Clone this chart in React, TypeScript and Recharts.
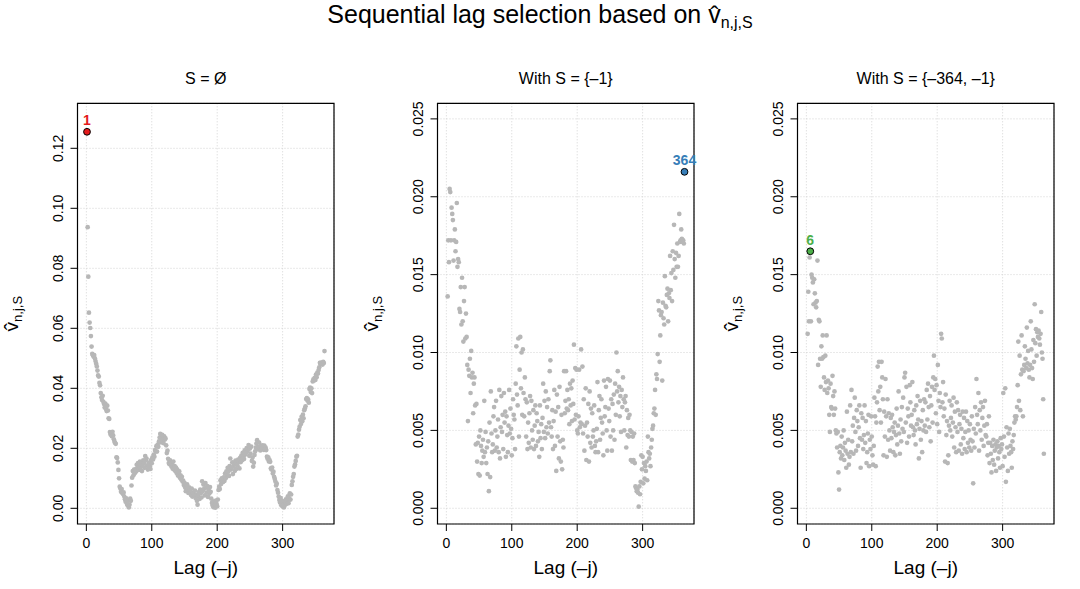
import React from 'react';
import { ScatterChart, Scatter, XAxis, YAxis, CartesianGrid, ReferenceArea } from 'recharts';

const FONT = '"Liberation Sans", Arial, Helvetica, sans-serif';

// ---------- data (values in thousandths, i.e. value * 1000) ----------
const X_TICKS = [0, 100, 200, 300];
const X_DOMAIN: [number, number] = [-13.52, 378.52];

const P1_Y_TICKS = [0, 0.02, 0.04, 0.06, 0.08, 0.1, 0.12];
const P23_Y_TICKS = [0, 0.005, 0.01, 0.015, 0.02, 0.025];

const TITLE_MAIN = 'Sequential lag selection based on ';
const PANEL_TITLES = ['S = Ø', 'With S = {–1}', 'With S = {–364, –1}'];
const X_LABEL = 'Lag (–j)';

// Panel 1: S = Ø, lags 1..364
const P1_FIRST_LAG = 1;
const P1_VALUES = [
  125.5, 93.7, 77.2, 65.2, 61.9, 60.1, 57.4, 53.9, 51.5, 51.0,
  50.6, 51.1, 50.0, 49.1, 48.2, 47.3, 45.9, 44.3, 43.9, 41.8,
  41.0, 38.4, 37.0, 36.1, 37.5, 35.5, 34.8, 33.6, 34.9, 33.1,
  32.4, 34.2, 32.6, 30.0, 29.8, 25.4, 24.6, 25.2, 24.0, 25.5,
  24.3, 23.0, 22.2, 21.8, 21.5, 17.0, 16.8, 15.3, 12.8, 10.0,
  7.2, 6.6, 5.5, 6.4, 5.1, 4.8, 5.3, 3.9, 3.0, 2.2,
  3.3, 1.5, 1.0, 2.6, 0.3, 1.2, 3.2, 2.5, 7.6, 10.2,
  12.4, 11.0, 12.9, 11.7, 13.0, 12.3, 14.5, 13.2, 15.1, 12.8,
  14.0, 15.6, 13.6, 14.9, 12.4, 14.4, 16.0, 15.0, 13.5, 17.4,
  15.9, 16.6, 14.3, 12.9, 13.6, 15.2, 14.0, 13.1, 16.1, 15.0,
  17.0, 16.3, 17.9, 17.2, 19.4, 19.0, 20.7, 18.9, 21.2, 20.5,
  22.3, 23.6, 24.8, 22.0, 23.2, 24.5, 22.6, 21.7, 24.0, 22.9,
  23.3, 21.0, 18.4, 19.2, 16.5, 15.1, 14.7, 16.0, 15.3, 13.9,
  14.8, 13.2, 15.6, 12.9, 14.1, 12.4, 13.6, 11.8, 12.9, 10.9,
  11.5, 12.3, 10.2, 11.0, 9.6, 10.5, 8.9, 9.2, 7.8, 8.5,
  6.9, 5.7, 7.3, 8.0, 6.2, 5.1, 7.0, 6.0, 5.5, 4.4,
  6.6, 3.9, 5.2, 4.8, 4.1, 5.9, 3.4, 4.6, 2.5, 1.2,
  4.0, 5.4, 3.1, 6.2, 5.0, 3.6, 9.0, 5.8, 7.9, 6.5,
  4.3, 8.4, 6.9, 5.2, 7.4, 3.8, 6.1, 4.9, 7.1, 5.5,
  3.2, 1.8, 0.9, 0.4, 2.3, 1.1, 0.2, 2.6, 1.5, 0.7,
  2.9, 6.1, 7.2, 6.4, 9.3, 8.1, 10.0, 9.5, 8.8, 10.3,
  9.1, 11.6, 10.0, 12.3, 11.0, 13.5, 12.2, 10.8, 14.1, 16.6,
  12.9, 13.6, 15.3, 11.4, 13.9, 14.8, 12.5, 15.9, 13.1, 15.0,
  14.3, 16.2, 15.5, 13.3, 16.8, 15.4, 17.6, 16.0, 18.5, 17.2,
  16.4, 19.3, 17.9, 18.6, 20.1, 18.9, 19.6, 21.1, 17.5, 19.9,
  18.2, 20.6, 15.8, 16.9, 13.9, 15.2, 17.8, 19.0, 20.2, 21.6,
  22.7, 20.5, 19.7, 21.9, 20.4, 19.3, 20.8, 19.8, 21.0, 20.3,
  19.5, 20.9, 19.5, 20.2, 19.4, 17.2, 16.5, 17.0, 15.6, 16.1,
  15.5, 13.3, 12.9, 13.6, 11.6, 12.2, 10.5, 9.8, 8.9, 7.6,
  8.2, 6.1, 5.2, 3.9, 2.8, 1.9, 3.4, 1.0, 2.5, 0.6,
  1.8, 0.3, 2.2, 1.2, 3.0, 1.5, 2.6, 4.0, 1.7, 3.3,
  5.0, 2.9, 4.6, 7.8, 9.0, 10.5, 11.4, 13.9, 14.6, 15.8,
  17.2, 17.5, 23.9, 24.6, 26.2, 27.2, 29.4, 28.1, 30.5, 29.0,
  31.2, 30.0, 32.7, 33.3, 34.0, 36.4, 36.7, 35.9, 36.3, 35.2,
  39.8, 40.2, 38.8, 40.0, 38.4, 42.3, 43.0, 42.6, 43.5, 42.8,
  44.6, 43.7, 45.2, 44.9, 46.1, 47.0, 48.5, 48.0, 48.6, 48.3,
  47.9, 48.8, 48.4, 52.4,
];

// Panel 2: S = {-1}, lags 2..364
const P2_FIRST_LAG = 2;
const P2_VALUES = [
  13.6, 17.2, 15.8, 20.5, 20.3, 17.2, 19.3, 18.9, 18.5,
  15.9, 17.2, 17.9, 16.5, 17.1, 19.6, 15.5, 16.0, 15.8, 12.8,
  12.6, 14.2, 11.8, 14.8, 12.0, 10.7, 13.3, 14.2, 10.9, 12.5,
  11.0, 9.2, 5.6, 8.9, 8.5, 9.6, 7.4, 10.1, 8.4, 8.7,
  6.1, 8.0, 8.4, 6.6, 4.1, 6.7, 3.0, 4.2, 2.2, 4.6,
  2.1, 5.0, 4.0, 2.9, 3.7, 4.4, 3.3, 6.9, 3.6, 4.9,
  2.9, 3.9, 2.2, 4.3, 1.1, 5.5, 2.0, 7.5, 4.8, 3.6,
  4.1, 5.9, 6.5, 3.7, 5.0, 6.9, 3.9, 4.6, 5.7, 3.6,
  7.6, 3.2, 5.2, 7.2, 4.9, 6.0, 3.8, 7.4, 5.5, 6.2,
  3.3, 5.9, 4.7, 3.6, 5.3, 7.6, 4.8, 6.4, 5.1, 3.4,
  4.5, 7.0, 6.0, 5.7, 3.8, 8.0, 10.4, 7.3, 6.6, 10.9,
  4.6, 8.9, 11.0, 7.7, 10.0, 6.0, 10.2, 7.4, 5.9, 8.4,
  7.0, 4.6, 6.8, 3.8, 5.5, 4.2, 6.1, 7.2, 3.9, 6.9,
  5.0, 4.4, 6.3, 3.8, 5.3, 6.6, 4.0, 6.1, 5.6, 4.3,
  4.9, 3.3, 6.6, 4.5, 5.4, 3.8, 5.8, 8.0, 4.9, 6.9,
  4.5, 7.5, 5.2, 6.5, 4.8, 7.0, 5.5, 8.8, 9.5, 5.2,
  4.6, 6.3, 3.8, 5.6, 7.6, 4.0, 6.2, 2.4, 7.3, 4.6,
  6.5, 3.2, 7.8, 4.3, 3.0, 6.0, 2.5, 4.4, 3.9, 8.8,
  6.1, 6.9, 8.8, 6.4, 7.6, 6.3, 7.0, 5.4, 8.0, 6.6,
  7.7, 5.6, 8.2, 6.7, 10.5, 5.7, 9.0, 6.0, 8.9, 5.0,
  4.8, 5.9, 8.9, 5.2, 5.5, 10.2, 5.4, 9.1, 4.8, 7.0,
  3.7, 5.3, 7.7, 3.1, 5.5, 4.6, 6.7, 3.0, 7.5, 4.2,
  6.4, 3.9, 6.1, 4.6, 5.0, 6.6, 4.0, 3.6, 4.3, 5.1,
  8.1, 3.6, 6.3, 7.2, 4.4, 5.8, 7.0, 5.5, 4.8, 3.4,
  8.2, 5.9, 6.5, 7.8, 5.0, 3.7, 8.3, 6.4, 5.6, 8.2,
  4.6, 7.0, 3.7, 6.7, 5.0, 7.3, 4.4, 8.0, 6.0, 10.0,
  7.5, 8.8, 6.8, 7.8, 5.9, 7.2, 4.9, 7.6, 6.5, 8.4,
  7.0, 5.0, 6.8, 7.2, 3.9, 6.3, 4.7, 5.8, 4.6, 6.0,
  5.0, 3.1, 4.9, 3.0, 4.6, 3.1, 4.8, 2.9, 1.4, 1.3,
  1.1, 1.2, 1.0, 0.1, 1.4, 0.9, 1.7, 3.4, 2.5, 3.3,
  1.6, 2.9, 1.9, 2.7, 2.4, 3.0, 1.8, 4.6, 3.6, 3.2,
  3.5, 2.7, 3.9, 4.4, 5.1, 5.3, 6.1, 6.4, 7.6, 6.0,
  8.6, 8.3, 9.9, 13.3, 12.7, 9.4, 11.1, 12.4, 12.6, 8.2,
  13.2, 12.2, 11.8, 14.9, 13.0, 12.9, 13.7, 14.1, 12.0, 13.8,
  13.5, 16.2, 14.0, 15.1, 13.3, 16.5, 15.3, 18.2, 16.0, 14.8,
  16.4, 15.5, 17.0, 15.5, 16.2, 18.9, 17.1, 17.2, 17.9, 17.3,
  17.1, 17.2, 17.0, 21.6,
];

// Panel 3: S = {-364, -1}, lags 2..363
const P3_FIRST_LAG = 2;
const P3_VALUES = [
  11.2, 13.9, 12.0, 16.1, 16.5, 12.0, 15.0, 14.8, 14.5,
  13.1, 14.7, 13.8, 13.2, 12.9, 13.3, 15.9, 9.2, 12.1, 12.0,
  9.6, 7.8, 10.4, 9.6, 11.1, 9.7, 8.4, 7.6, 9.8, 8.1,
  11.1, 7.4, 8.2, 7.7, 6.0, 4.9, 8.0, 6.5, 6.4, 8.5,
  7.2, 6.0, 7.5, 6.4, 5.0, 4.8, 3.9, 4.9, 2.3, 1.2,
  3.6, 4.0, 3.2, 4.6, 3.4, 3.9, 5.0, 3.1, 4.2, 3.7,
  2.6, 6.2, 3.5, 4.4, 2.8, 3.3, 6.6, 3.6, 7.6, 4.3,
  5.3, 3.5, 5.8, 7.1, 4.9, 3.7, 6.3, 5.6, 4.0, 5.2,
  6.6, 4.5, 2.6, 6.1, 4.4, 5.8, 3.8, 4.7, 6.6, 4.2,
  5.6, 2.9, 3.6, 4.8, 6.0, 2.7, 4.4, 3.8, 5.9, 4.6,
  3.4, 2.8, 4.0, 7.1, 5.9, 2.7, 5.5, 6.8, 9.1, 7.5,
  9.4, 6.3, 7.8, 5.5, 9.4, 8.4, 7.0, 3.4, 6.2, 4.6,
  8.3, 5.9, 3.3, 7.0, 4.4, 6.1, 5.0, 3.7, 5.8, 4.5,
  6.0, 5.2, 3.6, 4.9, 5.5, 3.4, 4.7, 6.4, 4.1, 5.3,
  7.5, 4.8, 3.5, 5.7, 4.3, 6.5, 5.1, 7.1, 4.9, 8.4,
  8.7, 5.5, 7.8, 4.2, 6.4, 5.9, 4.6, 7.9, 6.8, 5.3,
  6.0, 8.1, 5.2, 4.7, 6.3, 5.0, 4.1, 6.6, 5.4, 7.2,
  5.7, 3.2, 5.1, 6.9, 4.4, 5.6, 3.6, 6.3, 5.0, 7.0,
  5.3, 6.8, 4.9, 7.6, 5.7, 8.0, 6.5, 5.2, 7.2, 4.3,
  6.6, 7.8, 5.5, 8.4, 9.8, 7.6, 8.3, 6.1, 7.9, 5.4,
  9.2, 6.9, 4.9, 7.4, 6.5, 11.2, 10.9, 6.8, 8.1, 5.9,
  6.4, 3.0, 7.3, 4.7, 5.6, 2.9, 3.4, 5.3, 6.9, 5.0,
  5.8, 6.6, 4.6, 5.5, 7.1, 3.9, 6.2, 5.2, 3.6, 6.8,
  4.9, 6.3, 3.7, 5.4, 6.0, 4.1, 5.1, 3.5, 6.2, 4.5,
  5.8, 3.8, 4.9, 6.2, 3.6, 5.6, 4.2, 5.0, 3.9, 5.4,
  4.4, 3.7, 5.9, 4.3, 1.6, 5.1, 3.9, 6.5, 4.8, 8.3,
  6.0, 5.4, 7.4, 3.7, 6.3, 5.0, 6.8, 4.4, 5.8, 6.5,
  4.0, 5.3, 6.9, 4.7, 4.6, 5.4, 3.4, 4.2, 5.9, 2.9,
  4.2, 3.5, 2.3, 4.0, 3.1, 4.4, 2.8, 3.7, 4.1, 2.4,
  3.9, 4.3, 3.2, 4.0, 3.6, 2.6, 4.5, 3.8, 4.1, 2.7,
  7.4, 4.6, 3.3, 7.7, 1.7, 5.2, 3.9, 2.4, 4.8, 3.5,
  5.1, 4.0, 3.6, 2.6, 4.3, 3.8, 4.7, 5.5, 5.9, 5.7,
  5.9, 6.5, 7.9, 10.7, 6.9, 9.8, 6.3, 8.6, 11.1, 8.9,
  5.9, 8.8, 9.2, 10.4, 9.6, 9.0, 11.6, 9.3, 10.1, 8.9,
  8.4, 9.2, 12.0, 10.2, 9.0, 8.3, 10.8, 9.4, 13.1, 10.6,
  11.5, 9.8, 11.3, 11.0, 11.4, 10.9, 10.5, 11.2, 12.6, 10.0,
  9.6, 7.0, 3.5,
];

// Selected lags (highlighted points)
const P1_SELECTED = { lag: 1, value: 125.5 };
const P2_SELECTED = { lag: 364, value: 21.6 };
const P3_SELECTED = { lag: 6, value: 16.5 };

// ---------- styling ----------
const GREY = '#b7b7b7';
const RED = '#e41a1c';
const BLUE = '#377eb8';
const GREEN = '#4daf4a';

const CHART_W = 360;
const CHART_H = 589;
const PLOT_LEFT = 77.5;
const PLOT_RIGHT = 334;
const PLOT_TOP = 103.3;
const PLOT_BOTTOM = 524;
const PLOT_CX = (PLOT_LEFT + PLOT_RIGHT) / 2;
const PLOT_CY = (PLOT_TOP + PLOT_BOTTOM) / 2;

function MathV({ size, subSize, hatSize, hatDy, subDy }: any) {
  const vW = 0.5 * size;
  const hatW = 0.333 * hatSize;
  return (
    <>
      <tspan>v</tspan>
      <tspan dx={-(vW + hatW) / 2} dy={hatDy} fontSize={hatSize}>ˆ</tspan>
      <tspan dx={(vW - hatW) / 2} dy={-hatDy + subDy} fontSize={subSize}>n,j,S</tspan>
    </>
  );
}

const toData = (first: number, vals: number[]) => vals.map((v, i) => ({ x: first + i, y: v / 1000 }));

const GreyDot = (p: any) => <circle cx={p.cx} cy={p.cy} r={2.35} fill={GREY} />;

const makeHighlight = (color: string) => (p: any) => (
  <g>
    <circle cx={p.cx} cy={p.cy} r={3.4} fill={color} stroke="#000" strokeWidth={1} />
    <text x={p.cx} y={p.cy - 6.5} textAnchor="middle" fontSize={14} fontWeight="bold" fill={color} fontFamily={FONT}>
      {p.payload.x}
    </text>
  </g>
);

function Panel({ left, data, sel, color, yDomain, yTicks, decimals }: any) {
  const hl = [{ x: sel.lag, y: sel.value / 1000 }];
  return (
    <div style={{ position: 'absolute', left, top: 0, width: CHART_W, height: CHART_H }}>
      <ScatterChart width={CHART_W} height={CHART_H} margin={{ top: PLOT_TOP, right: CHART_W - PLOT_RIGHT, bottom: 0, left: 0 }}>
        <CartesianGrid stroke="#d3d3d3" strokeDasharray="1 2" />
        <XAxis
          type="number"
          dataKey="x"
          domain={X_DOMAIN}
          ticks={X_TICKS}
          interval={0}
          height={CHART_H - PLOT_BOTTOM}
          tickSize={7}
          axisLine={false}
          stroke="#000"
          tick={(t: any) => (
            <text x={t.x} y={548.3} textAnchor="middle" fontSize={14} fontFamily={FONT} fill="#000">
              {t.payload.value}
            </text>
          )}
          label={() => (
            <text x={PLOT_CX} y={573.5} textAnchor="middle" fontSize={19} fontFamily={FONT} fill="#000">
              {X_LABEL}
            </text>
          )}
        />
        <YAxis
          type="number"
          dataKey="y"
          domain={yDomain}
          ticks={yTicks}
          interval={0}
          width={PLOT_LEFT}
          tickSize={7}
          axisLine={false}
          stroke="#000"
          tick={(t: any) => (
            <text
              x={63.3}
              y={t.y}
              transform={`rotate(-90, 63.3, ${t.y})`}
              textAnchor="middle"
              fontSize={14}
              fontFamily={FONT}
              fill="#000"
            >
              {Number(t.payload.value).toFixed(decimals)}
            </text>
          )}
          label={() => (
            <text
              x={18.5}
              y={PLOT_CY}
              transform={`rotate(-90, 18.5, ${PLOT_CY})`}
              textAnchor="middle"
              fontSize={19}
              fontFamily={FONT}
              fill="#000"
            >
              <MathV size={19} subSize={13} hatSize={22} hatDy={1.5} subDy={4} />
            </text>
          )}
        />
        <ReferenceArea
          x1={X_DOMAIN[0]}
          x2={X_DOMAIN[1]}
          y1={yDomain[0]}
          y2={yDomain[1]}
          fill="none"
          fillOpacity={0}
          stroke="#000"
          strokeWidth={1.2}
          ifOverflow="visible"
        />
        <Scatter data={data} isAnimationActive={false} shape={GreyDot} />
        <Scatter data={hl} isAnimationActive={false} shape={makeHighlight(color)} />
      </ScatterChart>
    </div>
  );
}

export default function App() {
  const d1 = toData(P1_FIRST_LAG, P1_VALUES);
  const d2 = toData(P2_FIRST_LAG, P2_VALUES);
  const d3 = toData(P3_FIRST_LAG, P3_VALUES);
  const y1: [number, number] = [-0.00523, 0.135];
  const y23: [number, number] = [-0.00101, 0.026];
  return (
    <div style={{ position: 'absolute', left: 0, top: 0, width: 1080, height: 589, background: '#fff', fontFamily: FONT }}>
      <Panel left={0} data={d1} sel={P1_SELECTED} color={RED} yDomain={y1} yTicks={P1_Y_TICKS} decimals={2} />
      <Panel left={360} data={d2} sel={P2_SELECTED} color={BLUE} yDomain={y23} yTicks={P23_Y_TICKS} decimals={3} />
      <Panel left={720} data={d3} sel={P3_SELECTED} color={GREEN} yDomain={y23} yTicks={P23_Y_TICKS} decimals={3} />
      <svg width={1080} height={589} style={{ position: 'absolute', left: 0, top: 0, pointerEvents: 'none' }}>
        <text x={540} y={23} textAnchor="middle" fontSize={25} fontFamily={FONT} fill="#000">
          {TITLE_MAIN}
          <MathV size={25} subSize={16} hatSize={24} hatDy={-0.5} subDy={5} />
        </text>
        {PANEL_TITLES.map((t, i) => (
          <text key={t} x={i * 360 + PLOT_CX} y={84} textAnchor="middle" fontSize={16} fontFamily={FONT} fill="#000">
            {t}
          </text>
        ))}
      </svg>
    </div>
  );
}
